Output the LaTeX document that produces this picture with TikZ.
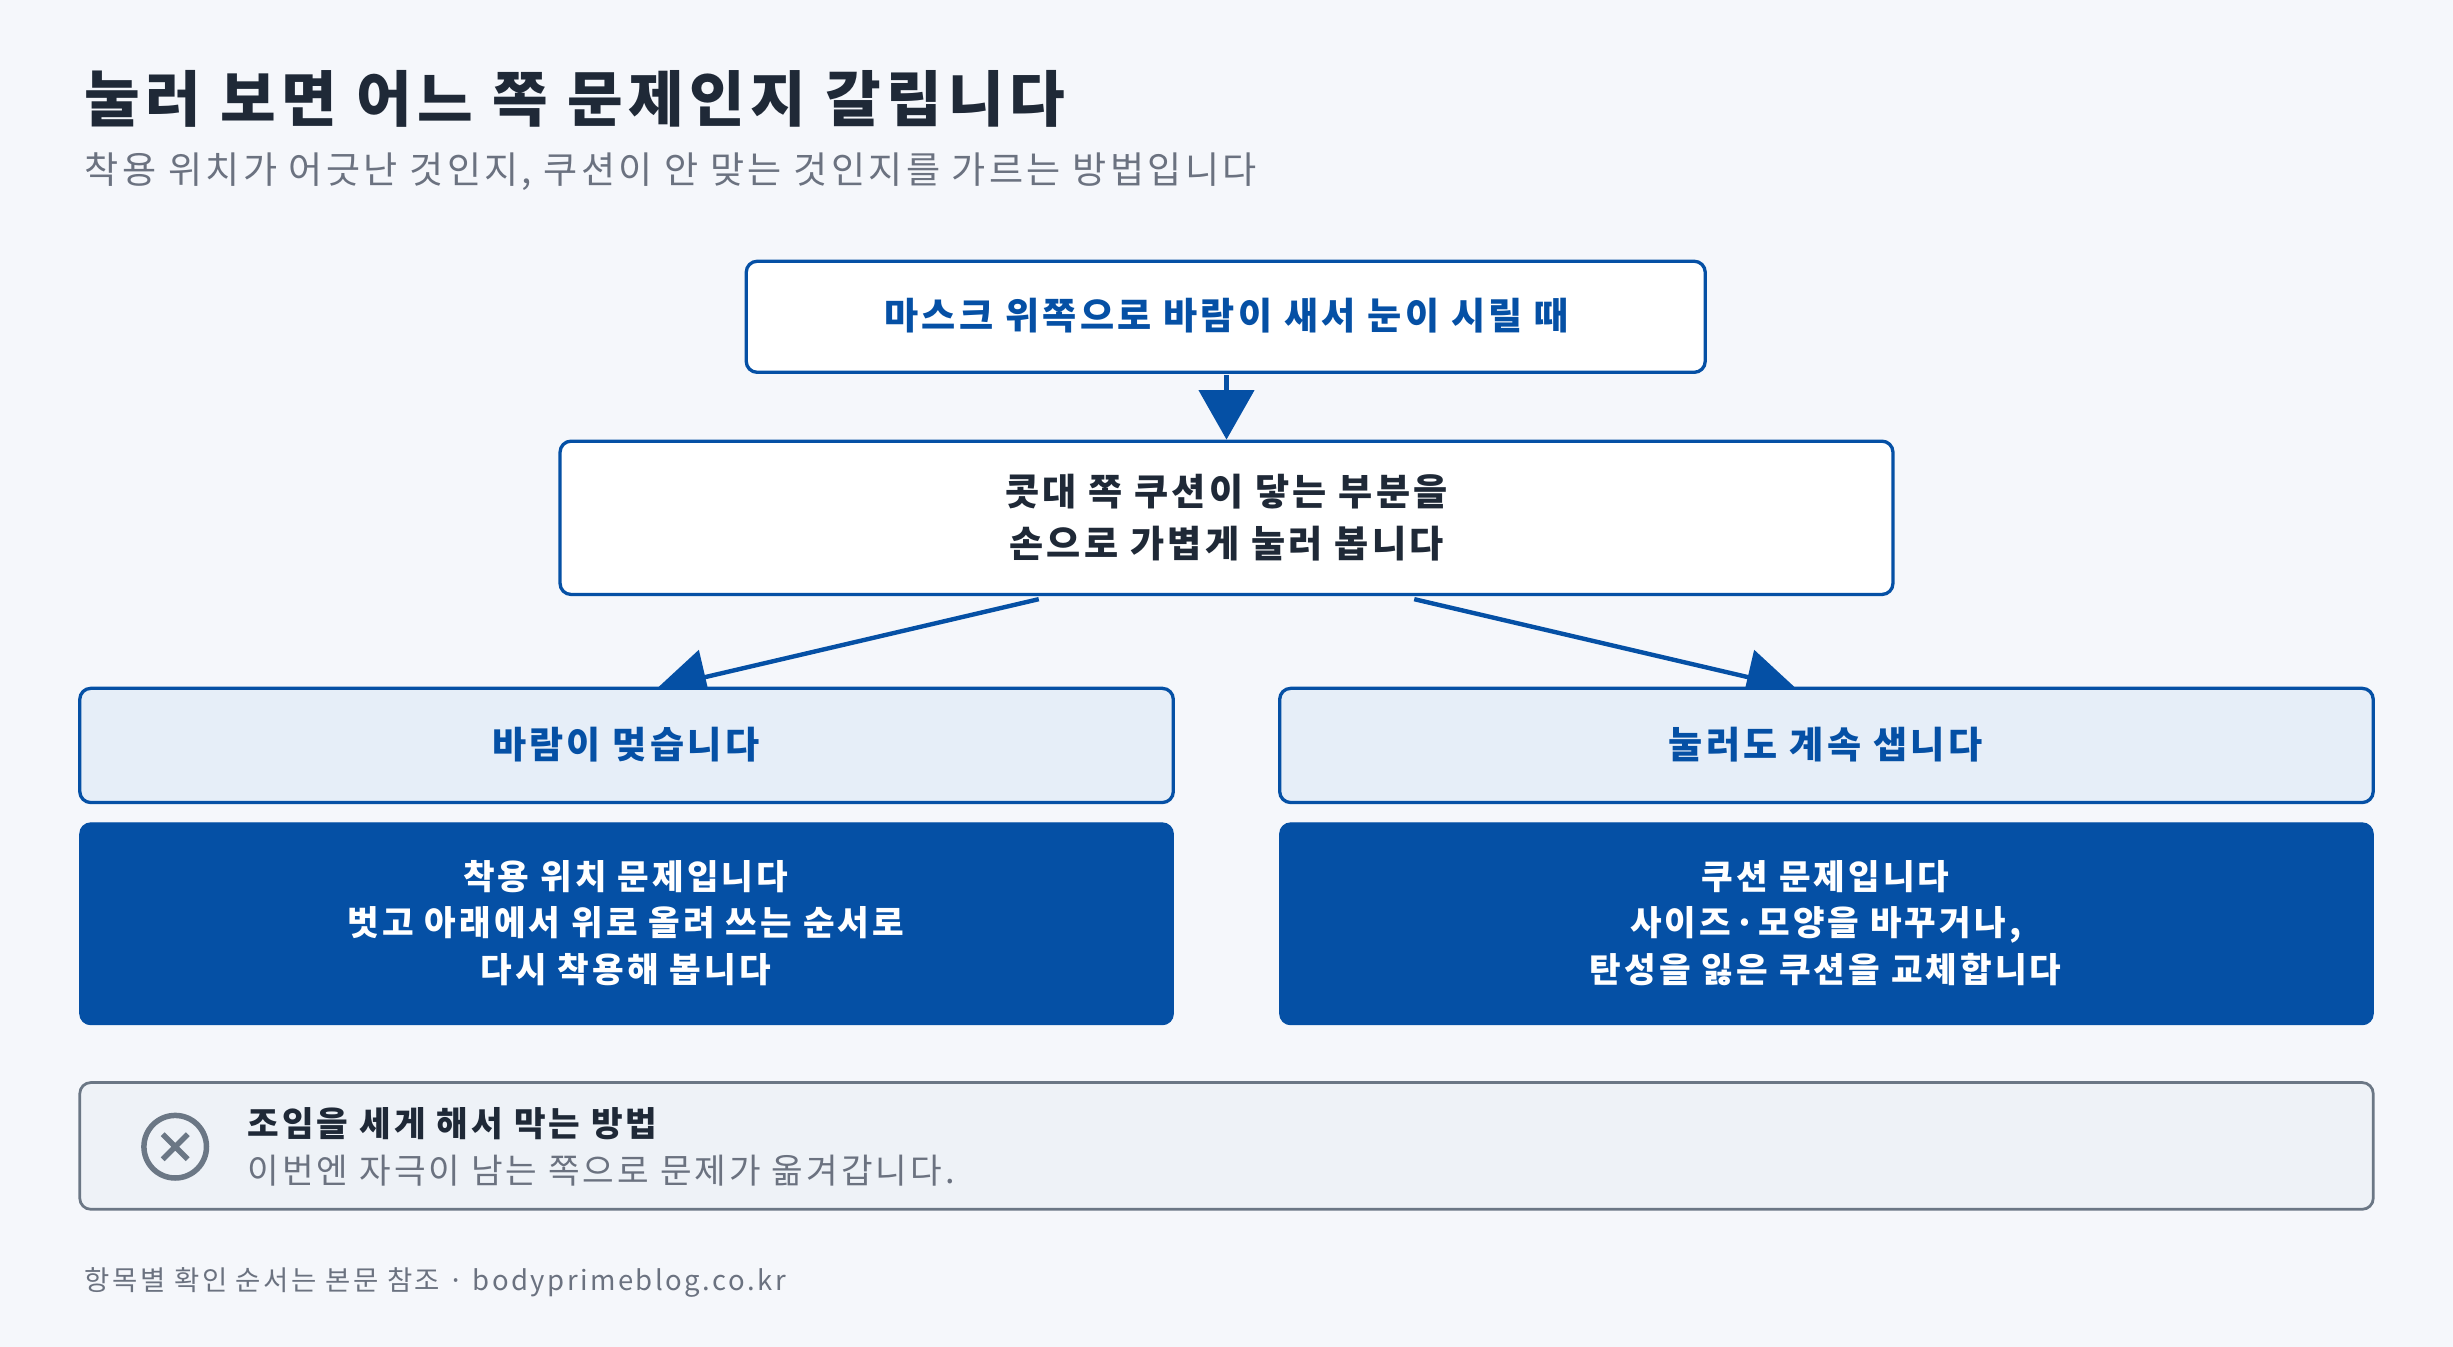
\documentclass[tikz,border=0pt]{standalone}
\usepackage{fontspec}
\setmainfont[LetterSpace=9]{Noto Sans CJK KR}
\usetikzlibrary{arrows.meta}
\definecolor{bg}{HTML}{F5F7FB}
\definecolor{navy}{HTML}{0550A5}
\definecolor{ink}{HTML}{1F2937}
\definecolor{muted}{HTML}{6B7280}
\definecolor{pale}{HTML}{E6EEF8}
\definecolor{note}{HTML}{EEF2F7}
\definecolor{noteline}{HTML}{6B7785}
\tikzset{
  box/.style={draw=navy,line width=1.2pt,rounded corners=4pt},
  askbox/.style={box,fill=white},
  answer/.style={box,fill=pale},
  result/.style={draw=navy,fill=navy,rounded corners=4pt},
  flow/.style={draw=navy,line width=1.6pt,-{Triangle[length=18pt,width=20pt]}},
}
\begin{document}
\begin{tikzpicture}[x=0.02cm,y=-0.02cm]
\useasboundingbox[fill=bg](0,0)rectangle(1568,861);

\node[anchor=west,text=ink,font=\bfseries\fontsize{22}{26}\selectfont](title)at(48,63){눌러 보면 어느 쪽 문제인지 갈립니다};
\node[anchor=west,text=muted,font=\fontsize{13.5}{16}\selectfont](sub)at(48,110){착용 위치가 어긋난 것인지, 쿠션이 안 맞는 것인지를 가르는 방법입니다};

\draw[askbox](477,167)rectangle(1090,238);
\node[text=navy,font=\bfseries\fontsize{13.5}{16}\selectfont](q)at(784,202){마스크 위쪽으로 바람이 새서 눈이 시릴 때};
\draw[askbox](358,282)rectangle(1210,380);
\node[text=ink,align=center,font=\bfseries\fontsize{13.5}{19}\selectfont](press)at(784,331){콧대 쪽 쿠션이 닿는 부분을\\손으로 가볍게 눌러 봅니다};

\coordinate(qb)at(784,240);
\coordinate(pt)at(784,281);
\coordinate(pl)at(664,383);
\coordinate(pr)at(904,383);
\coordinate(al)at(420,440);
\coordinate(ar)at(1148,440);
\draw[flow](qb)--(pt);
\draw[flow](pl)--(al);
\draw[flow](pr)--(ar);

\draw[answer](51,440)rectangle(750,513);
\node[text=navy,font=\bfseries\fontsize{13.5}{16}\selectfont](stop)at(400,476){바람이 멎습니다};
\draw[answer](818,440)rectangle(1517,513);
\node[text=navy,font=\bfseries\fontsize{13.5}{16}\selectfont](leak)at(1167,476){눌러도 계속 샙니다};

\draw[result](51,526)rectangle(750,655);
\node[text=white,align=center,font=\bfseries\fontsize{12.5}{17}\selectfont](fit)at(400,590){착용 위치 문제입니다\\벗고 아래에서 위로 올려 쓰는 순서로\\다시 착용해 봅니다};
\draw[result](818,526)rectangle(1517,655);
\node[text=white,align=center,font=\bfseries\fontsize{12.5}{17}\selectfont](cush)at(1167,590){쿠션 문제입니다\\사이즈·모양을 바꾸거나,\\탄성을 잃은 쿠션을 교체합니다};

% note
\draw[fill=note,draw=noteline,line width=1pt,rounded corners=4pt](51,692)rectangle(1517,773);
\draw[noteline,line width=2pt](112,733)circle(20);
\draw[noteline,line width=2pt](104,725)--(120,741)(120,725)--(104,741);
\node[anchor=west,text=ink,font=\bfseries\fontsize{12.5}{15}\selectfont](warn)at(152,718){조임을 세게 해서 막는 방법};
\node[anchor=west,text=muted,font=\fontsize{12.5}{15}\selectfont](warn2)at(152,748){이번엔 자극이 남는 쪽으로 문제가 옮겨갑니다.};

\node[anchor=west,text=muted,font=\fontsize{10}{12}\selectfont](foot)at(48,820){항목별 확인 순서는 본문 참조 · bodyprimeblog.co.kr};
\end{tikzpicture}
\end{document}
